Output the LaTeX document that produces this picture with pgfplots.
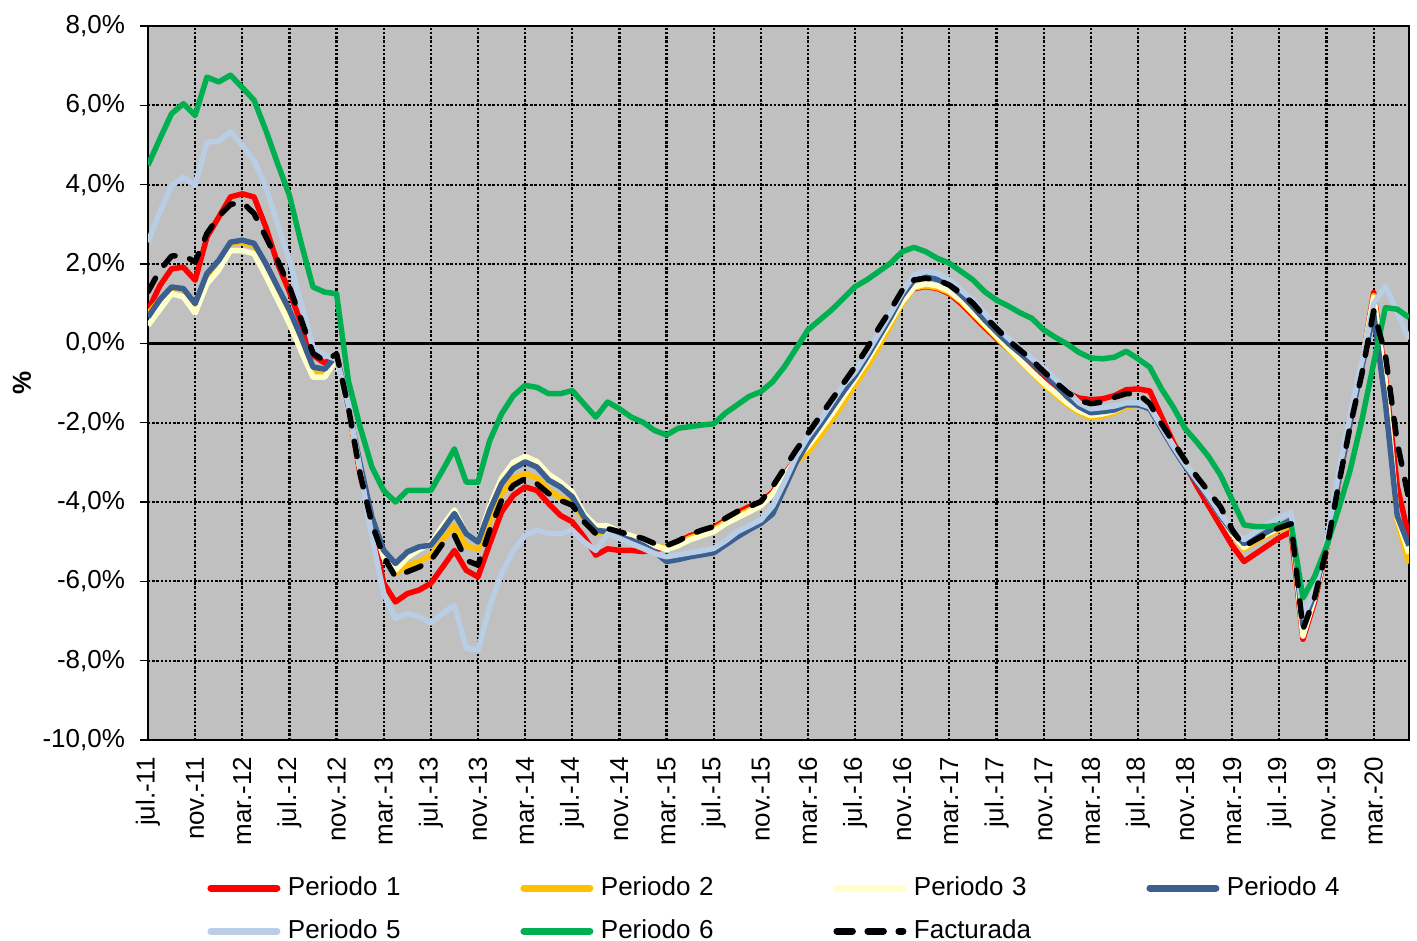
\documentclass[border=0pt]{standalone}
\usepackage{fontspec}
\setmainfont{Liberation Sans}
\usepackage{pgfplots}
\usepackage{pgfplotstable}
\pgfplotsset{compat=1.18}
\definecolor{cPa}{HTML}{FF0000}
\definecolor{cPb}{HTML}{FFC000}
\definecolor{cPc}{HTML}{FFFFCC}
\definecolor{cPd}{HTML}{3A5F90}
\definecolor{cPe}{HTML}{B9CDE5}
\definecolor{cPf}{HTML}{00B050}
\definecolor{plotgray}{RGB}{192,192,192}

\pgfplotstableread{
i p1 p2 p3 p4 p5 p6 f
0 0.83 0.75 0.45 0.66 2.55 4.49 1.30
1 1.45 1.10 0.85 1.10 3.31 5.15 1.84
2 1.88 1.40 1.25 1.42 3.98 5.79 2.20
3 1.92 1.35 1.17 1.38 4.19 6.04 2.22
4 1.59 0.95 0.76 1.00 3.98 5.75 2.05
5 2.68 1.70 1.50 1.76 5.07 6.71 2.77
6 3.18 2.05 1.85 2.09 5.10 6.59 3.20
7 3.69 2.50 2.34 2.55 5.33 6.76 3.50
8 3.77 2.55 2.34 2.60 4.99 6.45 3.56
9 3.69 2.45 2.26 2.52 4.61 6.13 3.27
10 2.93 1.95 1.70 2.01 3.94 5.37 2.68
11 2.01 1.35 1.10 1.42 3.02 4.53 2.09
12 1.30 0.75 0.50 0.84 2.09 3.73 1.42
13 0.50 0.05 -0.20 0.15 1.00 2.52 0.60
14 -0.30 -0.70 -0.85 -0.60 -0.10 1.42 -0.25
15 -0.50 -0.75 -0.85 -0.65 -0.30 1.29 -0.45
16 -0.30 -0.35 -0.40 -0.30 -0.40 1.25 -0.27
17 -1.61 -1.60 -1.65 -1.61 -1.53 -0.94 -1.61
18 -3.30 -3.20 -3.15 -3.04 -3.20 -2.11 -3.29
19 -4.60 -4.50 -4.45 -4.38 -4.88 -3.12 -4.55
20 -6.05 -5.35 -5.40 -5.22 -6.31 -3.71 -5.38
21 -6.52 -5.80 -5.72 -5.55 -6.94 -4.00 -5.89
22 -6.31 -5.60 -5.40 -5.26 -6.81 -3.71 -5.76
23 -6.22 -5.50 -5.20 -5.13 -6.89 -3.71 -5.64
24 -6.05 -5.35 -5.05 -5.09 -7.06 -3.71 -5.47
25 -5.64 -4.95 -4.60 -4.71 -6.81 -3.20 -5.05
26 -5.22 -4.60 -4.20 -4.29 -6.60 -2.66 -4.84
27 -5.72 -5.10 -4.80 -4.80 -7.69 -3.50 -5.47
28 -5.89 -5.20 -5.00 -5.01 -7.73 -3.50 -5.59
29 -5.05 -4.50 -4.10 -4.21 -6.64 -2.45 -4.71
30 -4.25 -3.80 -3.40 -3.54 -5.80 -1.78 -3.96
31 -3.83 -3.40 -3.00 -3.16 -5.22 -1.32 -3.58
32 -3.62 -3.29 -2.85 -2.99 -4.84 -1.06 -3.41
33 -3.71 -3.40 -2.98 -3.12 -4.71 -1.11 -3.54
34 -4.04 -3.70 -3.30 -3.45 -4.80 -1.27 -3.79
35 -4.34 -3.90 -3.50 -3.62 -4.80 -1.27 -3.96
36 -4.50 -4.00 -3.75 -3.87 -4.71 -1.19 -4.08
37 -4.88 -4.45 -4.30 -4.38 -5.01 -1.53 -4.50
38 -5.34 -4.80 -4.60 -4.71 -5.22 -1.86 -4.80
39 -5.18 -4.75 -4.60 -4.75 -4.80 -1.48 -4.67
40 -5.22 -4.85 -4.75 -4.88 -4.92 -1.65 -4.75
41 -5.22 -4.95 -4.85 -4.96 -5.05 -1.86 -4.84
42 -5.25 -5.00 -4.95 -5.09 -5.17 -1.99 -4.92
43 -5.20 -5.10 -5.10 -5.26 -5.30 -2.20 -5.05
44 -5.15 -5.15 -5.20 -5.50 -5.38 -2.31 -5.10
45 -5.00 -5.05 -5.10 -5.45 -5.33 -2.14 -4.98
46 -4.85 -4.90 -4.95 -5.38 -5.28 -2.10 -4.82
47 -4.75 -4.80 -4.85 -5.33 -5.23 -2.06 -4.71
48 -4.65 -4.70 -4.75 -5.28 -5.17 -2.03 -4.62
49 -4.45 -4.50 -4.55 -5.08 -4.98 -1.76 -4.41
50 -4.27 -4.35 -4.40 -4.88 -4.75 -1.55 -4.24
51 -4.12 -4.20 -4.25 -4.70 -4.60 -1.34 -4.12
52 -4.00 -4.05 -4.10 -4.54 -4.45 -1.22 -3.99
53 -3.75 -3.80 -3.80 -4.30 -4.10 -0.97 -3.61
54 -3.30 -3.40 -3.35 -3.65 -3.50 -0.59 -3.15
55 -2.90 -3.00 -2.90 -3.00 -2.85 -0.13 -2.69
56 -2.60 -2.75 -2.60 -2.50 -2.35 0.34 -2.27
57 -2.15 -2.35 -2.20 -2.08 -1.95 0.59 -1.85
58 -1.75 -1.95 -1.80 -1.65 -1.50 0.84 -1.43
59 -1.30 -1.50 -1.35 -1.22 -1.05 1.13 -1.01
60 -0.85 -1.05 -0.90 -0.82 -0.72 1.43 -0.59
61 -0.40 -0.60 -0.45 -0.35 -0.25 1.60 -0.13
62 0.10 -0.10 0.05 0.15 0.25 1.81 0.38
63 0.60 0.45 0.55 0.65 0.75 2.02 0.84
64 1.10 1.00 1.05 1.20 1.28 2.31 1.34
65 1.38 1.40 1.42 1.60 1.72 2.42 1.60
66 1.43 1.45 1.50 1.68 1.81 2.31 1.64
67 1.38 1.40 1.45 1.61 1.76 2.14 1.60
68 1.25 1.28 1.32 1.47 1.60 2.02 1.47
69 1.00 1.05 1.08 1.22 1.34 1.81 1.26
70 0.70 0.75 0.78 0.92 1.09 1.60 1.01
71 0.40 0.45 0.48 0.59 0.76 1.30 0.67
72 0.12 0.15 0.18 0.29 0.42 1.09 0.38
73 -0.15 -0.15 -0.12 0.00 0.13 0.94 0.08
74 -0.40 -0.45 -0.42 -0.25 -0.13 0.77 -0.17
75 -0.65 -0.75 -0.72 -0.50 -0.38 0.63 -0.42
76 -0.90 -1.05 -1.00 -0.76 -0.62 0.34 -0.71
77 -1.08 -1.30 -1.25 -1.05 -0.90 0.15 -0.98
78 -1.25 -1.55 -1.50 -1.35 -1.20 -0.02 -1.23
79 -1.38 -1.75 -1.70 -1.60 -1.50 -0.23 -1.44
80 -1.42 -1.88 -1.82 -1.75 -1.65 -0.37 -1.52
81 -1.40 -1.83 -1.78 -1.72 -1.62 -0.39 -1.48
82 -1.32 -1.75 -1.70 -1.68 -1.58 -0.35 -1.36
83 -1.17 -1.60 -1.55 -1.55 -1.50 -0.20 -1.27
84 -1.15 -1.55 -1.52 -1.55 -1.50 -0.39 -1.27
85 -1.20 -1.60 -1.60 -1.65 -1.60 -0.60 -1.52
86 -1.85 -2.10 -2.10 -2.15 -2.10 -1.15 -2.03
87 -2.50 -2.60 -2.60 -2.65 -2.60 -1.61 -2.49
88 -3.05 -3.05 -3.05 -3.10 -3.05 -2.15 -2.95
89 -3.60 -3.45 -3.45 -3.50 -3.45 -2.49 -3.36
90 -4.10 -3.90 -3.90 -3.90 -3.85 -2.86 -3.74
91 -4.60 -4.35 -4.35 -4.35 -4.30 -3.32 -4.12
92 -5.10 -4.80 -4.80 -4.75 -4.70 -3.95 -4.70
93 -5.50 -5.20 -5.15 -5.05 -4.95 -4.58 -5.12
94 -5.30 -5.00 -4.95 -4.90 -4.75 -4.62 -4.95
95 -5.10 -4.85 -4.80 -4.75 -4.55 -4.62 -4.79
96 -4.90 -4.70 -4.65 -4.60 -4.40 -4.58 -4.65
97 -4.75 -4.60 -4.50 -4.45 -4.25 -4.55 -4.55
98 -7.46 -7.30 -7.38 -7.10 -6.90 -6.42 -7.21
99 -6.50 -6.40 -6.40 -6.30 -6.20 -5.87 -6.40
100 -5.20 -5.15 -5.15 -5.10 -5.00 -5.12 -5.20
101 -3.55 -3.50 -3.50 -3.50 -3.30 -4.20 -3.60
102 -2.00 -1.95 -1.95 -2.00 -1.80 -3.20 -2.10
103 -0.50 -0.50 -0.50 -0.60 -0.45 -1.94 -0.77
104 1.28 1.20 1.15 0.75 1.00 -0.50 0.82
105 -0.85 -1.00 -1.00 -1.50 1.45 0.90 -0.30
106 -3.60 -4.50 -4.40 -4.35 0.78 0.86 -2.50
107 -4.90 -5.55 -5.30 -5.10 0.10 0.65 -3.95
}\datatable

\begin{document}
\fontsize{13}{15.6}\selectfont
\begin{tikzpicture}
\useasboundingbox (-74pt,-100.5pt) rectangle (634.5pt,370pt);
\begin{axis}[
  at={(0,0)}, anchor=south west,
  scale only axis, width=630.5pt, height=357pt,
  xmin=0, xmax=107, ymin=-10, ymax=8,
  axis background/.style={fill=plotgray},
  axis line style={black, line width=1pt},
  xtick={0,4,...,104},
  xticklabels={jul.-11,nov.-11,mar.-12,jul.-12,nov.-12,mar.-13,jul.-13,nov.-13,mar.-14,jul.-14,nov.-14,mar.-15,jul.-15,nov.-15,mar.-16,jul.-16,nov.-16,mar.-17,jul.-17,nov.-17,mar.-18,jul.-18,nov.-18,mar.-19,jul.-19,nov.-19,mar.-20},
  xticklabel style={rotate=90, anchor=east, font=\fontsize{13}{15.6}\selectfont},
  x tick style={draw=none},
  ytick={-10,-8,...,8},
  yticklabels={{-10,0\%},{-8,0\%},{-6,0\%},{-4,0\%},{-2,0\%},{0,0\%},{2,0\%},{4,0\%},{6,0\%},{8,0\%}},
  yticklabel style={font=\fontsize{13}{15.6}\selectfont, xshift=-3pt},
  ytick pos=left,
  y tick style={black, line width=0.8pt},
  tick align=outside, major tick length=4pt,
  grid=major,
  major grid style={black, line width=1.1pt, dash pattern=on 1.2pt off 0.9pt},
  extra y ticks={0}, extra y tick labels={},
  extra y tick style={grid=major, major grid style={solid, black, line width=1.2pt}},
  ylabel={\textbf{\%}},
  ylabel style={at={(axis description cs:-0.0999,0.5)}, anchor=center, font=\fontsize{13}{15.6}\selectfont},
  legend columns=4,
  legend style={at={(axis description cs:0.0468,-0.190)}, anchor=north west, draw=none, fill=none, inner sep=0pt,
    font=\fontsize{13}{15.6}\selectfont, row sep=9.5pt,
    nodes={inner xsep=0pt, inner ysep=0pt, text width=116.25pt, align=left, text height=9.5pt, text depth=2.5pt},
    /tikz/every odd column/.append style={column sep=3.75pt}},
  legend image code/.code={\draw[#1, line width=3.5pt, line cap=round] (0pt,0pt) -- (33pt,0pt);},
  every axis plot/.append style={line join=round, line width=2.75pt},
]
\addplot[cPa, no markers] table[x=i, y=p1] {\datatable};
\addlegendentry{Periodo 1}
\addplot[cPb, no markers] table[x=i, y=p2] {\datatable};
\addlegendentry{Periodo 2}
\addplot[cPc, no markers] table[x=i, y=p3] {\datatable};
\addlegendentry{Periodo 3}
\addplot[cPd, no markers] table[x=i, y=p4] {\datatable};
\addlegendentry{Periodo 4}
\addplot[cPe, no markers] table[x=i, y=p5] {\datatable};
\addlegendentry{Periodo 5}
\addplot[cPf, no markers] table[x=i, y=p6] {\datatable};
\addlegendentry{Periodo 6}
\addplot[black, no markers, line width=2.75pt, line cap=round, dash pattern=on 7.75pt off 7.75pt] table[x=i, y=f] {\datatable};
\addlegendentry{Facturada}
\end{axis}
\end{tikzpicture}
\end{document}
